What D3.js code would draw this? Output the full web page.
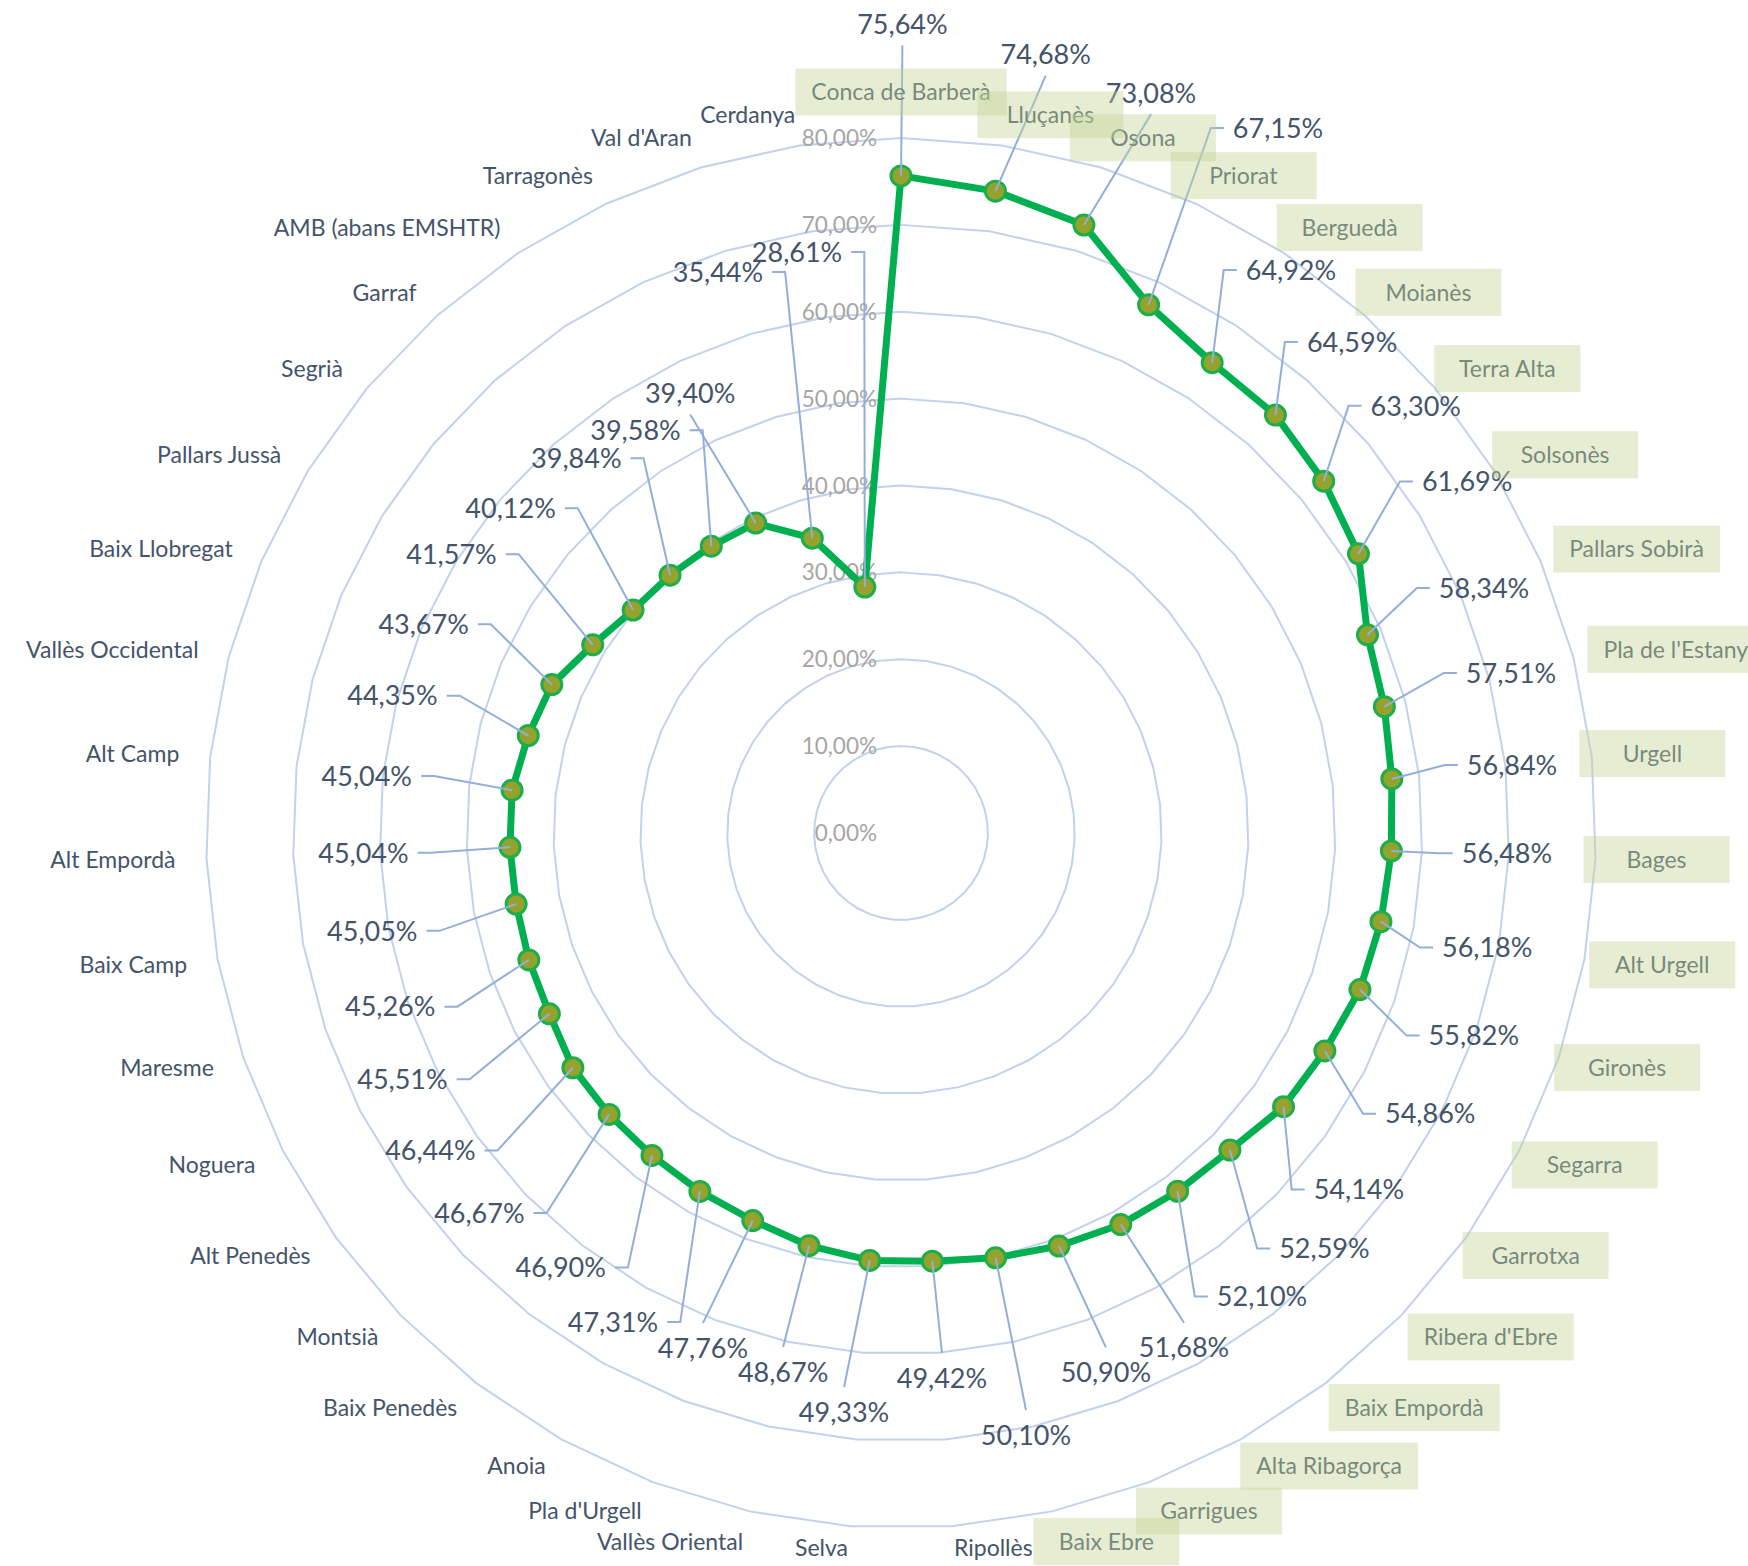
<!DOCTYPE html>
<html><head><meta charset="utf-8">
<script src="https://cdn.jsdelivr.net/npm/d3@7"></script>
<style>body{margin:0;background:#fff}svg{display:block}</style>
</head><body>
<svg id="chart" width="1748" height="1566"></svg>
<script>
// ---- data (clockwise from the top) ----
const categories = ["Conca de Barberà","Lluçanès","Osona","Priorat","Berguedà","Moianès","Terra Alta","Solsonès","Pallars Sobirà","Pla de l'Estany","Urgell","Bages","Alt Urgell","Gironès","Segarra","Garrotxa","Ribera d'Ebre","Baix Empordà","Alta Ribagorça","Garrigues","Baix Ebre","Ripollès","Selva","Vallès Oriental","Pla d'Urgell","Anoia","Baix Penedès","Montsià","Alt Penedès","Noguera","Maresme","Baix Camp","Alt Empordà","Alt Camp","Vallès Occidental","Baix Llobregat","Pallars Jussà","Segrià","Garraf","AMB (abans EMSHTR)","Tarragonès","Val d'Aran","Cerdanya"];
const values = [75.64,74.68,73.08,67.15,64.92,64.59,63.30,61.69,58.34,57.51,56.84,56.48,56.18,55.82,54.86,54.14,52.59,52.10,51.68,50.90,50.10,49.42,49.33,48.67,47.76,47.31,46.90,46.67,46.44,45.51,45.26,45.05,45.04,45.04,44.35,43.67,41.57,40.12,39.84,39.58,39.40,35.44,28.61];
const axisTicks = [0,10,20,30,40,50,60,70,80];
const highlightFrom = 50; // categories at or above this value carry a green tag
// data-label placement, in value units of the radial scale (%) and a small turn (degrees)
const labelRadius = [93.06,91.13,89.9,92.03,78.83,76.74,77.0,76.7,72.8,72.6,70.77,69.79,68.75,69.94,68.96,66.8,68.29,67.63,67.62,66.41,70.77,62.91,66.97,63.51,63.52,65.33,63.53,65.33,65.35,64.0,62.1,61.89,61.92,61.84,60.63,59.97,60.89,58.45,57.08,55.52,56.11,67.92,67.94];
const labelTurn = [0.1,2.16,1.93,3.02,1.22,0.72,0.08,-0.43,0.23,-0.05,-0.07,-0.19,0.59,0.64,0.73,2.32,0.51,-0.24,0.5,0.13,0.83,-0.11,1.43,-0.22,0.1,1.19,0.39,1.93,1.58,0.93,0.06,-0.02,-0.02,-0.18,0.46,0.59,0.42,-0.02,0.96,0.09,-0.51,-1.33,-1.77];

// ---- layout ----
const W = 1748, H = 1566;
const cx = 901, cy = 833;
const n = categories.length;
const r = d3.scaleLinear().domain([0, 80]).range([0, 695]);
const ang = d3.scaleLinear().domain([0, n]).range([0, 2 * Math.PI]);
const polar = (a, rad) => [cx + rad * Math.sin(a), cy - rad * Math.cos(a)];
const fmt = d3.formatLocale({decimal: ",", thousands: ".", grouping: [3], currency: ["", "€"]}).format(".2f");

const svg = d3.select("#chart");
const FONT = "Lato, 'Open Sans', sans-serif";

// gridlines (polygons)
const grid = svg.append("g");
axisTicks.filter(t => t > 0).forEach(t => {
  const gp = d3.range(n).map(i => polar(ang(i), r(t)));
  grid.append("path")
    .attr("d", d3.line().curve(d3.curveLinearClosed)(gp))
    .attr("fill", "none").attr("stroke", "#c3d1ec").attr("stroke-width", 2);
});

// axis labels
svg.append("g").selectAll("text").data(axisTicks).join("text")
  .attr("x", cx - 24).attr("y", d => cy - r(d)).attr("dy", "0.36em")
  .attr("text-anchor", "end").attr("font-family", FONT).attr("font-size", 22.5)
  .attr("fill", "#a6a6a6").text(d => fmt(d) + "%");

// series line
const pts = values.map((v, i) => polar(ang(i), r(v)));
svg.append("path")
  .attr("d", d3.line().curve(d3.curveLinearClosed)(pts))
  .attr("fill", "none").attr("stroke", "#00b050").attr("stroke-width", 7)
  .attr("stroke-linejoin", "round");

// markers
svg.append("g").selectAll("circle").data(pts).join("circle")
  .attr("cx", d => d[0]).attr("cy", d => d[1]).attr("r", 10)
  .attr("fill", "#95a22e").attr("stroke", "#1eae49").attr("stroke-width", 3);

// data labels with leader lines
const leaderG = svg.append("g");
const dlG = svg.append("g");
values.forEach((v, i) => {
  const [lx, ly] = polar(ang(i) + labelTurn[i] * Math.PI / 180, r(labelRadius[i]));
  const t = dlG.append("text").attr("x", lx).attr("y", ly).attr("dy", "0.36em")
    .attr("text-anchor", "middle").attr("font-family", FONT).attr("font-size", 27)
    .attr("fill", "#44546a").text(fmt(v) + "%");
  const half = t.node().getBBox().width / 2;
  const [px, py] = pts[i];
  let path;
  if (px > lx + half + 22) {
    const x0 = lx + half + 9; path = [[px, py], [x0 + 13, ly], [x0, ly]];
  } else if (px < lx - half - 22) {
    const x0 = lx - half - 9; path = [[px, py], [x0 - 13, ly], [x0, ly]];
  } else if (py > ly) {
    path = [[px, py], [lx, ly + 21]];
  } else {
    path = [[px, py], [lx, ly - 25]];
  }
  leaderG.append("path").attr("d", d3.line()(path))
    .attr("fill", "none").attr("stroke", "#93afd9").attr("stroke-width", 2);
});

// category labels (+ translucent tags for the highlighted ones)
const catR = r(80) + 31;
const catG = svg.append("g");
const boxG = svg.append("g");
categories.forEach((c, i) => {
  const a = ang(i);
  const [x, y] = polar(a, catR);
  const s = Math.sin(a);
  const anchor = Math.abs(s) < 0.02 ? "middle" : (s > 0 ? "start" : "end");
  let yy = Math.abs(s) < 0.02 ? y - 15 : y;
  yy = Math.min(yy, H - 18);
  const t = catG.append("text").attr("x", x).attr("y", yy).attr("dy", "0.36em")
    .attr("text-anchor", anchor).attr("font-family", FONT).attr("font-size", 23)
    .attr("fill", "#44546a").text(c);
  if (values[i] >= highlightFrom) {
    const bb = t.node().getBBox();
    const bw = Math.max(146, bb.width + 32), bh = 47;
    const mx = bb.x + bb.width / 2;
    boxG.append("rect").attr("x", mx - bw / 2).attr("y", yy - bh / 2)
      .attr("width", bw).attr("height", bh)
      .attr("fill", "rgb(196,212,150)").attr("fill-opacity", 0.42);
  }
});
</script>
</body></html>
